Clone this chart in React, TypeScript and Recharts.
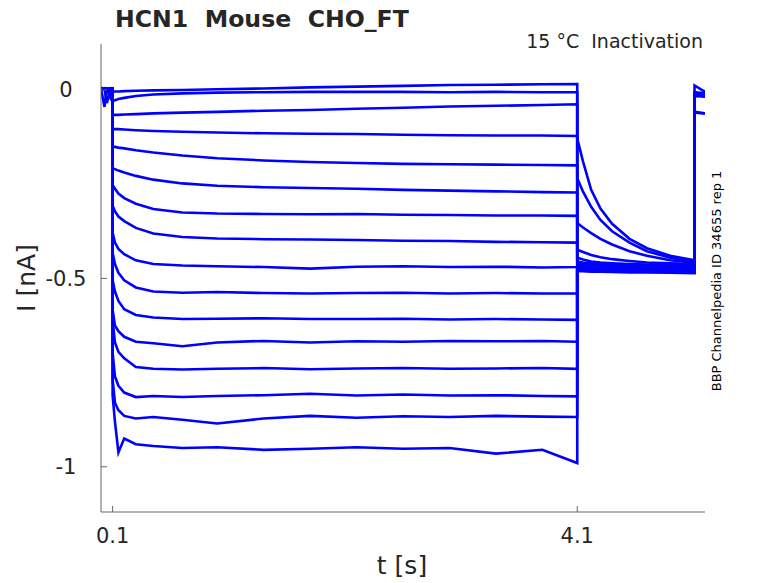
import React from "react";
import { LineChart, Line, XAxis, YAxis } from "recharts";

// shared time base (s); repeated times make the vertical voltage-step edges
const TIME = [
  0, 0.03, 0.05, 0.08, 0.1,
  0.1, 0.12, 0.15, 0.2, 0.3, 0.45, 0.7, 1.0, 1.4, 1.8, 2.2, 2.6, 3.0, 3.4, 3.8, 4.1,
  4.1, 4.15, 4.22, 4.3, 4.4, 4.55, 4.7, 4.9, 5.11,
  5.11, 5.2,
];

const X_TICKS = [0.1, 4.1];
const Y_TICKS = [-1, -0.5, 0];

// current traces (nA): pre-pulse | conditioning step | test-step tail | return
const TRACE_1 = [0.004, -0.045, 0.003, 0.005, 0.004,
  -0.005, -0.004, -0.004, -0.003, -0.002, -0.001, 0.0, 0.002, 0.004, 0.007, 0.009, 0.011, 0.013, 0.014, 0.015, 0.016,
  -0.128, -0.19, -0.265, -0.315, -0.355, -0.395, -0.42, -0.44, -0.452,
  0.012, -0.005];
const TRACE_2 = [0.006, 0.004, -0.035, 0.002, 0.003,
  -0.029, -0.027, -0.024, -0.021, -0.016, -0.012, -0.009, -0.007, -0.006, -0.005, -0.005, -0.005, -0.006, -0.005, -0.006, -0.006,
  -0.234, -0.27, -0.31, -0.345, -0.375, -0.405, -0.428, -0.445, -0.455,
  -0.006, -0.009];
const TRACE_3 = [0.002, 0.005, 0.004, -0.02, 0.001,
  -0.066, -0.066, -0.066, -0.065, -0.064, -0.062, -0.06, -0.058, -0.055, -0.053, -0.05, -0.047, -0.044, -0.042, -0.04, -0.038,
  -0.353, -0.365, -0.38, -0.395, -0.41, -0.428, -0.44, -0.452, -0.458,
  -0.01, -0.012];
const TRACE_4 = [0.003, 0.002, 0.004, 0.001, 0.002,
  -0.104, -0.104, -0.104, -0.105, -0.107, -0.109, -0.111, -0.113, -0.115, -0.116, -0.117, -0.119, -0.12, -0.121, -0.121, -0.122,
  -0.424, -0.43, -0.438, -0.444, -0.449, -0.454, -0.458, -0.46, -0.462,
  -0.008, -0.011];
const TRACE_5 = [0.001, 0.003, 0.002, 0.004, 0.0,
  -0.15, -0.151, -0.153, -0.155, -0.16, -0.166, -0.174, -0.181, -0.187, -0.191, -0.194, -0.196, -0.197, -0.198, -0.199, -0.2,
  -0.445, -0.45, -0.455, -0.458, -0.46, -0.462, -0.463, -0.465, -0.466,
  -0.012, -0.014];
const TRACE_6 = [0.004, 0.001, 0.003, 0.002, 0.003,
  -0.208, -0.21, -0.214, -0.219, -0.228, -0.238, -0.248, -0.254, -0.258, -0.26, -0.262, -0.265, -0.267, -0.269, -0.271, -0.272,
  -0.455, -0.458, -0.46, -0.462, -0.463, -0.464, -0.466, -0.466, -0.468,
  -0.014, -0.013];
const TRACE_7 = [0.002, 0.004, 0.001, 0.003, 0.002,
  -0.252, -0.262, -0.275, -0.287, -0.302, -0.316, -0.325, -0.328, -0.329, -0.33, -0.329, -0.331, -0.332, -0.333, -0.333, -0.334,
  -0.46, -0.462, -0.464, -0.465, -0.466, -0.467, -0.468, -0.469, -0.47,
  -0.011, -0.015];
const TRACE_8 = [0.003, 0.002, 0.005, 0.001, 0.003,
  -0.307, -0.322, -0.336, -0.348, -0.366, -0.381, -0.39, -0.394, -0.396, -0.397, -0.398, -0.4, -0.401, -0.403, -0.404, -0.405,
  -0.463, -0.465, -0.466, -0.467, -0.468, -0.469, -0.47, -0.471, -0.472,
  -0.015, -0.012];
const TRACE_9 = [0.001, 0.003, 0.002, 0.002, 0.004,
  -0.379, -0.405, -0.422, -0.436, -0.452, -0.462, -0.466, -0.468, -0.47, -0.474, -0.469, -0.468, -0.47, -0.469, -0.471, -0.47,
  -0.466, -0.467, -0.468, -0.469, -0.47, -0.47, -0.471, -0.472, -0.473,
  -0.013, -0.016];
const TRACE_10 = [0.004, 0.002, 0.003, 0.003, 0.001,
  -0.432, -0.462, -0.485, -0.505, -0.524, -0.535, -0.538, -0.536, -0.539, -0.54, -0.539, -0.538, -0.54, -0.539, -0.54, -0.54,
  -0.468, -0.469, -0.47, -0.471, -0.471, -0.472, -0.473, -0.474, -0.474,
  -0.016, -0.013];
const TRACE_11 = [0.002, 0.001, 0.004, 0.002, 0.003,
  -0.504, -0.535, -0.56, -0.582, -0.597, -0.604, -0.608, -0.607, -0.606, -0.608, -0.608, -0.607, -0.609, -0.608, -0.609, -0.61,
  -0.47, -0.471, -0.472, -0.472, -0.473, -0.474, -0.474, -0.475, -0.476,
  -0.012, -0.014];
const TRACE_12 = [0.003, 0.004, 0.002, 0.001, 0.002,
  -0.583, -0.625, -0.64, -0.655, -0.668, -0.672, -0.68, -0.67, -0.666, -0.67, -0.667, -0.668, -0.666, -0.667, -0.666, -0.668,
  -0.472, -0.473, -0.473, -0.474, -0.475, -0.475, -0.476, -0.477, -0.478,
  -0.014, -0.017];
const TRACE_13 = [0.001, 0.002, 0.003, 0.004, 0.002,
  -0.61, -0.67, -0.695, -0.712, -0.735, -0.74, -0.742, -0.74, -0.738, -0.741, -0.739, -0.738, -0.74, -0.739, -0.738, -0.74,
  -0.474, -0.475, -0.475, -0.476, -0.477, -0.477, -0.478, -0.479, -0.48,
  -0.017, -0.014];
const TRACE_14 = [0.003, 0.001, 0.002, 0.003, 0.004,
  -0.697, -0.76, -0.785, -0.803, -0.815, -0.812, -0.815, -0.812, -0.81, -0.806, -0.811, -0.808, -0.811, -0.81, -0.812, -0.813,
  -0.476, -0.477, -0.477, -0.478, -0.478, -0.479, -0.48, -0.48, -0.482,
  -0.015, -0.018];
const TRACE_15 = [0.002, 0.003, 0.001, 0.002, 0.003,
  -0.769, -0.83, -0.85, -0.865, -0.872, -0.868, -0.875, -0.885, -0.872, -0.865, -0.87, -0.866, -0.868, -0.865, -0.867, -0.868,
  -0.478, -0.479, -0.48, -0.48, -0.481, -0.481, -0.482, -0.483, -0.484,
  -0.058, -0.062];
const TRACE_16 = [0.004, 0.002, 0.003, 0.001, 0.002,
  -0.81, -0.88, -0.962, -0.925, -0.94, -0.945, -0.95, -0.948, -0.955, -0.952, -0.948, -0.952, -0.95, -0.965, -0.955, -0.99,
  -0.48, -0.481, -0.482, -0.482, -0.483, -0.484, -0.484, -0.485, -0.486,
  -0.06, -0.063];

const TRACES = [
  TRACE_1, TRACE_2, TRACE_3, TRACE_4, TRACE_5, TRACE_6, TRACE_7, TRACE_8,
  TRACE_9, TRACE_10, TRACE_11, TRACE_12, TRACE_13, TRACE_14, TRACE_15, TRACE_16,
];

const rows = TIME.map((t, i) => {
  const r: Record<string, number> = { t };
  TRACES.forEach((tr, k) => {
    r["v" + k] = tr[i];
  });
  return r;
});

const FONT = "DejaVu Sans";
const TXT = "#262626";
const AX = "#666666";

const XTick = (props: any) => {
  const { x, y, payload } = props;
  return (
    <g>
      <line x1={x} x2={x} y1={y} y2={y - 6} stroke={AX} strokeWidth={1} />
      <text x={x} y={y + 31} textAnchor="middle" fontSize={21} fill={TXT} fontFamily={FONT}>
        {String(payload.value)}
      </text>
    </g>
  );
};

const YTick = (props: any) => {
  const { x, y, payload } = props;
  return (
    <g>
      <line x1={x} x2={x + 6} y1={y} y2={y} stroke={AX} strokeWidth={1} />
      <text x={x - 35} y={y + 7.5} textAnchor="middle" fontSize={21} fill={TXT} fontFamily={FONT}>
        {String(payload.value)}
      </text>
    </g>
  );
};

export default function App() {
  return (
    <div style={{ position: "absolute", left: 0, top: 0, width: 778, height: 583, background: "#fff" }}>
      <LineChart width={778} height={583} data={rows} margin={{ top: 44, right: 73, bottom: 0, left: 0 }}>
        <XAxis
          dataKey="t"
          type="number"
          domain={[0, 5.2]}
          ticks={X_TICKS}
          interval={0}
          height={71}
          tickSize={0}
          tickMargin={0}
          tickLine={false}
          tick={<XTick />}
          stroke={AX}
          allowDataOverflow
        />
        <YAxis
          type="number"
          domain={[-1.12, 0.122]}
          ticks={Y_TICKS}
          interval={0}
          width={101}
          tickSize={0}
          tickMargin={0}
          tickLine={false}
          tick={<YTick />}
          stroke={AX}
          allowDataOverflow
        />
        {TRACES.map((_, k) => (
          <Line
            key={k}
            dataKey={"v" + k}
            type="linear"
            stroke="#0000ff"
            strokeWidth={2.6}
            dot={false}
            activeDot={false}
            isAnimationActive={false}
          />
        ))}
      </LineChart>
      <svg width={778} height={583} style={{ position: "absolute", left: 0, top: 0, pointerEvents: "none" }}>
        <text x={115} y={27} fontSize={23.6} fontWeight="bold" fill={TXT} fontFamily={FONT}>
          HCN1{"\u00a0\u00a0"}Mouse{"\u00a0\u00a0"}CHO_FT
        </text>
        <text x={703} y={48} textAnchor="end" fontSize={19} fill={TXT} fontFamily={FONT}>
          15 °C{"\u00a0\u00a0"}Inactivation
        </text>
        <text x={402} y={574} textAnchor="middle" fontSize={25} fill={TXT} fontFamily={FONT}>
          t [s]
        </text>
        <text
          x={0}
          y={0}
          transform="translate(35,278) rotate(-90)"
          textAnchor="middle"
          fontSize={25}
          fill={TXT}
          fontFamily={FONT}
        >
          I [nA]
        </text>
        <text
          x={0}
          y={0}
          transform="translate(721,281) rotate(-90)"
          textAnchor="middle"
          fontSize={13}
          fill="#000"
          fontFamily={FONT}
        >
          BBP Channelpedia ID 34655 rep 1
        </text>
      </svg>
    </div>
  );
}
